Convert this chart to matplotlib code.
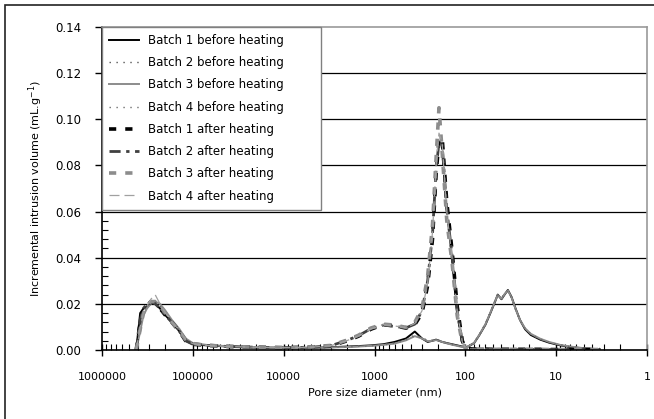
import matplotlib
matplotlib.use("Agg")
import matplotlib.pyplot as plt
from matplotlib.patches import Rectangle
from matplotlib.ticker import FixedLocator, LogLocator, NullFormatter, MultipleLocator

# pore diameters (nm), shared by all series
diam = [420000, 380000, 350000, 320000, 290000, 260000, 230000, 200000, 170000, 140000,
        120000, 100000, 70000, 40000, 20000, 10000, 5000, 3000, 2000, 1500,
        1100, 800, 600, 450, 360, 300, 260, 230, 210, 195,
        180, 160, 140, 123, 108, 100, 90, 80, 70, 60,
        53, 47, 44, 40, 37, 34, 31, 28, 25, 22,
        19, 15, 12, 9, 7, 5, 3.3]

b1 = [0, 0.016, 0.018, 0.019, 0.020, 0.020, 0.018, 0.015, 0.012, 0.008,
      0.004, 0.0025, 0.002, 0.0015, 0.001, 0.001, 0.0009, 0.0012, 0.0015, 0.0017,
      0.002, 0.0025, 0.0035, 0.005, 0.008, 0.005, 0.0035, 0.004, 0.0045, 0.004,
      0.0035, 0.003, 0.0025, 0.002, 0.0015, 0.001, 0.0018, 0.003, 0.0065, 0.011,
      0.016, 0.021, 0.024, 0.022, 0.024, 0.026, 0.023, 0.018, 0.013, 0.009,
      0.0065, 0.0045, 0.0032, 0.002, 0.0013, 0.0007, 0.0003]
b2 = [0, 0.010, 0.016, 0.019, 0.021, 0.021, 0.019, 0.016, 0.012, 0.008,
      0.0045, 0.003, 0.002, 0.0015, 0.0012, 0.001, 0.001, 0.0012, 0.0014, 0.0016,
      0.0019, 0.0023, 0.003, 0.0045, 0.0065, 0.0055, 0.004, 0.0042, 0.0045, 0.0042,
      0.0036, 0.003, 0.0024, 0.0019, 0.0014, 0.0011, 0.002, 0.0032, 0.0068, 0.0115,
      0.0165, 0.0215, 0.0235, 0.0225, 0.0245, 0.0255, 0.0225, 0.0175, 0.0128, 0.0092,
      0.0068, 0.0047, 0.0033, 0.0021, 0.0014, 0.0008, 0.0003]
b3 = [0, 0.008, 0.015, 0.018, 0.020, 0.021, 0.020, 0.017, 0.013, 0.009,
      0.005, 0.003, 0.0022, 0.0016, 0.0012, 0.001, 0.001, 0.0011, 0.0013, 0.0015,
      0.0018, 0.0022, 0.0028, 0.0042, 0.006, 0.005, 0.0038, 0.004, 0.0043, 0.004,
      0.0035, 0.0029, 0.0023, 0.0018, 0.0013, 0.001, 0.0019, 0.0031, 0.0066, 0.0112,
      0.0162, 0.0212, 0.0238, 0.0222, 0.0242, 0.0258, 0.0228, 0.0178, 0.013, 0.0094,
      0.007, 0.0049, 0.0035, 0.0022, 0.0015, 0.0008, 0.0003]
b4 = [0, 0.011, 0.017, 0.019, 0.020, 0.021, 0.019, 0.016, 0.012, 0.0085,
      0.0045, 0.0028, 0.002, 0.0015, 0.0012, 0.001, 0.001, 0.0012, 0.0014, 0.0016,
      0.0018, 0.0022, 0.0029, 0.0044, 0.0062, 0.0052, 0.0039, 0.0041, 0.0044, 0.0041,
      0.0035, 0.0029, 0.0024, 0.0019, 0.0014, 0.001, 0.0019, 0.0031, 0.0067, 0.0113,
      0.0163, 0.0213, 0.0236, 0.0223, 0.0243, 0.0256, 0.0226, 0.0177, 0.0129, 0.0093,
      0.0069, 0.0048, 0.0034, 0.0022, 0.0014, 0.0008, 0.0003]

a1 = [0, 0.012, 0.017, 0.019, 0.021, 0.020, 0.018, 0.015, 0.012, 0.008,
      0.004, 0.0025, 0.002, 0.0015, 0.0012, 0.001, 0.0012, 0.0018, 0.004, 0.006,
      0.009, 0.011, 0.0105, 0.0095, 0.011, 0.016, 0.028, 0.048, 0.076, 0.091,
      0.092, 0.064, 0.043, 0.019, 0.004, 0.001, 0.0005, 0.0004, 0.0004, 0.0004,
      0.0003, 0.0003, 0.0003, 0.0003, 0.0003, 0.0003, 0.0003, 0.0003, 0.0003, 0.0003,
      0.0003, 0.0003, 0.0002, 0.0002, 0.0002, 0.0002, 0.0002]
a2 = [0, 0.013, 0.018, 0.020, 0.021, 0.020, 0.018, 0.015, 0.012, 0.008,
      0.004, 0.0025, 0.002, 0.0015, 0.0012, 0.001, 0.0012, 0.0019, 0.0042, 0.0062,
      0.0092, 0.0108, 0.0102, 0.0096, 0.0112, 0.017, 0.03, 0.05, 0.078, 0.090,
      0.089, 0.061, 0.041, 0.017, 0.0035, 0.001, 0.0005, 0.0004, 0.0004, 0.0004,
      0.0003, 0.0003, 0.0003, 0.0003, 0.0003, 0.0003, 0.0003, 0.0003, 0.0003, 0.0003,
      0.0003, 0.0003, 0.0002, 0.0002, 0.0002, 0.0002, 0.0002]
a3 = [0, 0.009, 0.016, 0.019, 0.021, 0.021, 0.019, 0.016, 0.012, 0.008,
      0.0045, 0.0028, 0.002, 0.0016, 0.0012, 0.001, 0.0013, 0.002, 0.0043, 0.0064,
      0.0095, 0.0112, 0.0108, 0.0098, 0.012, 0.018, 0.032, 0.054, 0.083, 0.105,
      0.086, 0.056, 0.038, 0.015, 0.003, 0.0008, 0.0005, 0.0004, 0.0004, 0.0004,
      0.0003, 0.0003, 0.0003, 0.0003, 0.0003, 0.0003, 0.0003, 0.0003, 0.0003, 0.0003,
      0.0003, 0.0003, 0.0002, 0.0002, 0.0002, 0.0002, 0.0002]
a4 = [0, 0.010, 0.016, 0.019, 0.022, 0.024, 0.020, 0.016, 0.012, 0.0085,
      0.0045, 0.0027, 0.002, 0.0015, 0.0012, 0.001, 0.0012, 0.0019, 0.0041, 0.0061,
      0.0091, 0.011, 0.0104, 0.0097, 0.0115, 0.017, 0.029, 0.051, 0.080, 0.094,
      0.090, 0.060, 0.040, 0.017, 0.0035, 0.001, 0.0005, 0.0004, 0.0004, 0.0004,
      0.0003, 0.0003, 0.0003, 0.0003, 0.0003, 0.0003, 0.0003, 0.0003, 0.0003, 0.0003,
      0.0003, 0.0003, 0.0002, 0.0002, 0.0002, 0.0002, 0.0002]

labels = ["Batch 1 before heating", "Batch 2 before heating",
          "Batch 3 before heating", "Batch 4 before heating",
          "Batch 1 after heating", "Batch 2 after heating",
          "Batch 3 after heating", "Batch 4 after heating"]
xtick_vals = [1000000, 100000, 10000, 1000, 100, 10, 1]
xtick_labels = ["1000000", "100000", "10000", "1000", "100", "10", "1"]

styles = [
    dict(color="black", lw=1.4, ls="-"),
    dict(color="#555555", lw=1.0, ls=(0, (1, 4))),
    dict(color="#8c8c8c", lw=1.4, ls="-"),
    dict(color="#6e6e6e", lw=1.0, ls=(0, (1, 4))),
    dict(color="black", lw=2.6, ls=(0, (2, 2.5))),
    dict(color="#404040", lw=2.0, ls=(0, (4, 2, 1.2, 2))),
    dict(color="#8c8c8c", lw=2.6, ls=(0, (2, 2.5))),
    dict(color="#a0a0a0", lw=0.9, ls=(0, (8, 4))),
]
series = [b1, b2, b3, b4, a1, a2, a3, a4]

plt.rcParams["font.family"] = "DejaVu Sans"
fig = plt.figure(figsize=(6.54, 4.19), dpi=100)
ax = fig.add_axes([102 / 654, 69 / 419, 545 / 654, 323 / 419])

for y, lab, st in zip(series, labels, styles):
    ax.plot(diam, y, label=lab, **st)

ax.set_xscale("log")
ax.set_xlim(1000000, 1)
ax.set_ylim(0, 0.14)

for g in [0.02, 0.04, 0.06, 0.08, 0.10, 0.12]:
    ax.axhline(g, color="black", lw=0.9, zorder=0.5)

ax.xaxis.set_major_locator(FixedLocator(xtick_vals))
ax.set_xticklabels(xtick_labels)
ax.xaxis.set_minor_locator(LogLocator(base=10, subs=range(2, 10), numticks=20))
ax.xaxis.set_minor_formatter(NullFormatter())
ax.yaxis.set_major_locator(MultipleLocator(0.02))
ax.yaxis.set_minor_locator(MultipleLocator(0.004))
ax.set_yticklabels([f"{v:.2f}" for v in ax.get_yticks()])

ax.tick_params(axis="x", which="major", direction="inout", length=8, width=1, labelsize=8, pad=12)
ax.tick_params(axis="x", which="minor", direction="in", length=4, width=0.8)
ax.tick_params(axis="y", which="major", direction="out", length=5, width=1, labelsize=8.5, pad=10)
ax.tick_params(axis="y", which="minor", direction="in", length=4, width=0.8)

for s in ["top", "right"]:
    ax.spines[s].set_color("#999999")
    ax.spines[s].set_linewidth(1.2)
for s in ["left", "bottom"]:
    ax.spines[s].set_color("black")
    ax.spines[s].set_linewidth(1.2)

ax.set_xlabel("Pore size diameter (nm)", fontsize=8, labelpad=4)
ax.set_ylabel("Incremental intrusion volume (mL.g$^{-1}$)", fontsize=8, labelpad=7)

leg = ax.legend(loc="upper left", bbox_to_anchor=(0.0, 0.0, 219 / 545, 1.0), mode="expand",
                fontsize=8.5, frameon=True, fancybox=False, edgecolor="#808080", framealpha=1,
                handlelength=2.5, labelspacing=0.78, borderpad=0.6, borderaxespad=0.0)
leg.get_frame().set_linewidth(1.0)

fig.patches.append(Rectangle((5 / 654, -0.05), 1.2, 1.05 - 5.5 / 419, transform=fig.transFigure,
                             fill=False, edgecolor="#222222", lw=1.2))

fig.savefig("out.png", dpi=100)
